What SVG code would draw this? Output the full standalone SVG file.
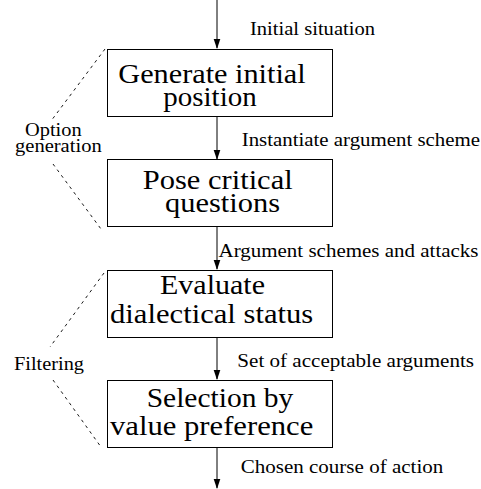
<svg xmlns="http://www.w3.org/2000/svg" width="481" height="489" viewBox="0 0 481 489">
<style>
.box{fill:#fff;stroke:#000;stroke-width:1}
text{font-family:"Liberation Serif","DejaVu Serif","Noto Serif",Times,serif;fill:#000}
.big{font-size:28px}
.small{font-size:18px}
.dash{stroke:#000;stroke-width:0.9;fill:none;stroke-dasharray:3 4}
.ln{stroke:#000;stroke-width:1}
</style>
<defs>
<path id="head" d="M-3.3,-10 L0,0 L3.3,-10 Z" fill="#000"/>
</defs>
<g id="connectors">
<line class="ln" x1="217" y1="0" x2="217" y2="48"/>
<use href="#head" x="217" y="49"/>
<line class="ln" x1="217" y1="117" x2="217" y2="159"/>
<use href="#head" x="217" y="160"/>
<line class="ln" x1="217" y1="227" x2="217" y2="269"/>
<use href="#head" x="217" y="270"/>
<line class="ln" x1="217" y1="338" x2="217" y2="379"/>
<use href="#head" x="217" y="380"/>
<line class="ln" x1="217" y1="448" x2="217" y2="488"/>
<use href="#head" x="217" y="489"/>
<text class="small" x="250" y="35" textLength="125" lengthAdjust="spacingAndGlyphs">Initial situation</text>
<text class="small" x="241.7" y="145.5" textLength="238.3" lengthAdjust="spacingAndGlyphs">Instantiate argument scheme</text>
<text class="small" x="218.5" y="257" textLength="260" lengthAdjust="spacingAndGlyphs">Argument schemes and attacks</text>
<text class="small" x="237.3" y="366.5" textLength="236.7" lengthAdjust="spacingAndGlyphs">Set of acceptable arguments</text>
<text class="small" x="240.7" y="473.3" textLength="202.6" lengthAdjust="spacingAndGlyphs">Chosen course of action</text>
</g>
<g id="generate">
<rect class="box" x="107.5" y="49.5" width="225" height="67"/>
<text class="big" x="118.3" y="83" textLength="187.4" lengthAdjust="spacingAndGlyphs">Generate initial</text>
<text class="big" x="163.3" y="106" textLength="93.4" lengthAdjust="spacingAndGlyphs">position</text>
</g>
<g id="pose">
<rect class="box" x="107.5" y="159.5" width="225" height="67"/>
<text class="big" x="142.7" y="189" textLength="150" lengthAdjust="spacingAndGlyphs">Pose critical</text>
<text class="big" x="165" y="212" textLength="115" lengthAdjust="spacingAndGlyphs">questions</text>
</g>
<g id="evaluate">
<rect class="box" x="107.5" y="270.5" width="225" height="67"/>
<text class="big" x="160" y="294" textLength="105" lengthAdjust="spacingAndGlyphs">Evaluate</text>
<text class="big" x="110" y="323" textLength="203.3" lengthAdjust="spacingAndGlyphs">dialectical status</text>
</g>
<g id="selection">
<rect class="box" x="107.5" y="380.5" width="225" height="67"/>
<text class="big" x="146.7" y="406.5" textLength="146.6" lengthAdjust="spacingAndGlyphs">Selection by</text>
<text class="big" x="110" y="435" textLength="203.3" lengthAdjust="spacingAndGlyphs">value preference</text>
</g>
<g id="option-generation">
<line class="dash" x1="105" y1="49" x2="51" y2="121"/>
<line class="dash" x1="53" y1="164" x2="101" y2="229"/>
<text class="small" x="25" y="136" textLength="56.7" lengthAdjust="spacingAndGlyphs">Option</text>
<text class="small" x="15" y="152" textLength="86.7" lengthAdjust="spacingAndGlyphs">generation</text>
</g>
<g id="filtering">
<line class="dash" x1="104" y1="273" x2="50" y2="347"/>
<line class="dash" x1="53" y1="380" x2="101" y2="447"/>
<text class="small" x="14" y="370" textLength="70" lengthAdjust="spacingAndGlyphs">Filtering</text>
</g>
</svg>
